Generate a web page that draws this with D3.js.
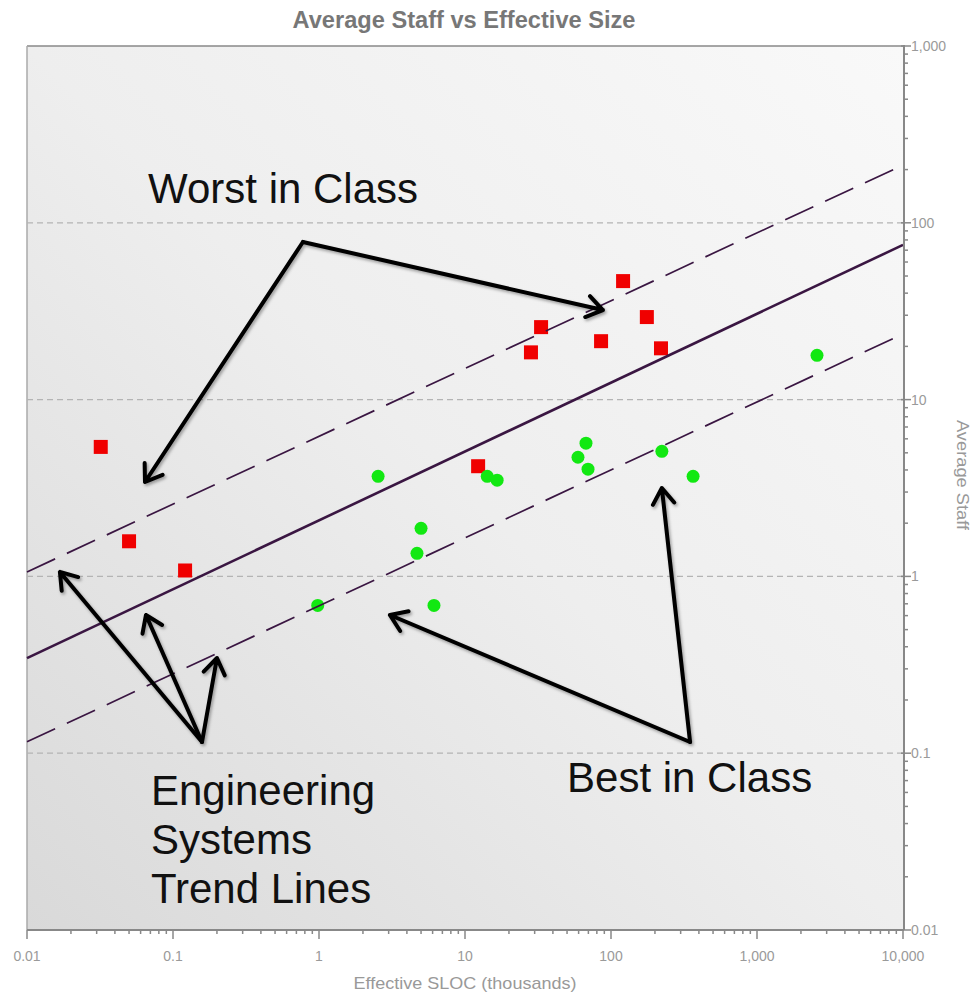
<!DOCTYPE html>
<meta charset="utf-8">
<head>
    <style>
     body { margin: 0; background: #fff; }
     svg text { font-family: "Liberation Sans", Arial, sans-serif; }
    </style>
</head>
<body>
</body>
<script src="https://d3js.org/d3.v7.min.js"></script>
<script>
 // worst in class projects (red squares)
 const worstSloc  = [0.032, 0.05, 0.121, 12.3, 28.3, 33.2, 85.5, 121, 176, 220];
 const worstStaff = [5.4, 1.58, 1.08, 4.2, 18.5, 25.7, 21.4, 46.8, 29.3, 19.5];

 // best in class projects (green dots)
 const bestSloc  = [0.98, 2.54, 4.69, 5.0, 6.13, 14.2, 16.6, 59.4, 67.4, 69.6, 223, 365, 2576];
 const bestStaff = [0.685, 3.68, 1.35, 1.87, 0.685, 3.68, 3.5, 4.72, 5.67, 4.04, 5.1, 3.68, 17.8];

 // engineering systems trend lines (end points)
 const trendSloc = [0.01, 10000];
 const trendMid  = [0.345, 75];
 const trendHigh = [1.06, 212];
 const trendLow  = [0.116, 23.5];

 const xTicks = [0.01, 0.1, 1, 10, 100, 1000, 10000];
 const xTickLabels = ["0.01", "0.1", "1", "10", "100", "1,000", "10,000"];
 const yTicks = [0.01, 0.1, 1, 10, 100, 1000];
 const yTickLabels = ["0.01", "0.1", "1", "10", "100", "1,000"];
 const yGrid = [0.1, 1, 10, 100];

 // annotations, in data units: [vertex, tips...]
 const worstArrow = [[0.776, 77.9], [88, 32.1], [0.0643, 3.42]];
 const bestArrow  = [[348, 0.1157], [223, 3.16], [3.06, 0.605]];
 const trendArrow = [[0.158, 0.1157], [0.0168, 1.06], [0.0653, 0.605], [0.2, 0.3455]];
 const notes = [
     {lines: ["Worst in Class"], at: [0.0675, 129]},
     {lines: ["Best in Class"], at: [50, 0.0603]},
     {lines: ["Engineering", "Systems", "Trend Lines"], at: [0.0706, 0.0509]}
 ];

 const width = 973, height = 995;
 const pLeft = 27, pRight = 903, pTop = 46, pBottom = 930;

 const x = d3.scaleLog().domain([0.01, 10000]).range([pLeft, pRight]);
 const y = d3.scaleLog().domain([0.01, 1000]).range([pBottom, pTop]);

 const svg = d3.select("body").append("svg")
               .attr("width", width)
               .attr("height", height);

 const defs = svg.append("defs");
 const grad = defs.append("linearGradient")
                  .attr("id", "bg")
                  .attr("x1", 0).attr("y1", 1)
                  .attr("x2", 1).attr("y2", 0);
 grad.append("stop").attr("offset", "0%").attr("stop-color", "#d9d9d9");
 grad.append("stop").attr("offset", "50%").attr("stop-color", "#eeeeee");
 grad.append("stop").attr("offset", "100%").attr("stop-color", "#f9f9f9");

 const shadow = defs.append("filter").attr("id", "shadow")
                    .attr("x", "-20%").attr("y", "-20%")
                    .attr("width", "140%").attr("height", "140%");
 shadow.append("feDropShadow")
       .attr("dx", 1.5).attr("dy", 2)
       .attr("stdDeviation", 1.5)
       .attr("flood-color", "#000")
       .attr("flood-opacity", 0.35);

 // plot background
 svg.append("rect")
    .attr("x", pLeft).attr("y", pTop)
    .attr("width", pRight - pLeft).attr("height", pBottom - pTop)
    .attr("fill", "url(#bg)");

 // frame
 svg.append("line")
    .attr("x1", pLeft).attr("x2", pRight)
    .attr("y1", pTop).attr("y2", pTop)
    .attr("stroke", "#888").attr("stroke-width", 1.5);
 svg.append("line")
    .attr("x1", pLeft).attr("x2", pLeft)
    .attr("y1", pTop).attr("y2", pBottom)
    .attr("stroke", "#aaa").attr("stroke-width", 1.5);

 // grid
 svg.append("g")
    .selectAll("line")
    .data(yGrid)
    .join("line")
    .attr("x1", pLeft).attr("x2", pRight)
    .attr("y1", d => y(d)).attr("y2", d => y(d))
    .attr("stroke", "#b4b4b4")
    .attr("stroke-width", 1.2)
    .attr("stroke-dasharray", "6,4");

 // points
 svg.append("g")
    .selectAll("rect")
    .data(worstSloc.map((s, i) => [s, worstStaff[i]]))
    .join("rect")
    .attr("x", d => x(d[0]) - 7)
    .attr("y", d => y(d[1]) - 7)
    .attr("width", 14).attr("height", 14)
    .attr("fill", "#f00000");

 svg.append("g")
    .selectAll("circle")
    .data(bestSloc.map((s, i) => [s, bestStaff[i]]))
    .join("circle")
    .attr("cx", d => x(d[0]))
    .attr("cy", d => y(d[1]))
    .attr("r", 6.5)
    .attr("fill", "#12e812");

 // trend lines
 const line = d3.line().x(d => x(d[0])).y(d => y(d[1]));
 const trends = [
     {v: trendHigh, dash: "31,13", w: 1.7},
     {v: trendMid, dash: null, w: 2.6},
     {v: trendLow, dash: "31,13", w: 1.7}
 ];
 svg.append("g")
    .selectAll("path")
    .data(trends)
    .join("path")
    .attr("d", t => line(trendSloc.map((s, i) => [s, t.v[i]])))
    .attr("fill", "none")
    .attr("stroke", "#3a1642")
    .attr("stroke-width", t => t.w)
    .attr("stroke-dasharray", t => t.dash);

 // axes
 const xAxis = svg.append("g");
 xAxis.append("line")
      .attr("x1", pLeft).attr("x2", pRight + 1)
      .attr("y1", pBottom).attr("y2", pBottom)
      .attr("stroke", "#888").attr("stroke-width", 2);
 xAxis.selectAll("line.tick")
      .data(x.ticks())
      .join("line")
      .attr("class", "tick")
      .attr("x1", d => x(d)).attr("x2", d => x(d))
      .attr("y1", pBottom)
      .attr("y2", d => pBottom + (xTicks.includes(d) ? 9 : 4))
      .attr("stroke", "#888").attr("stroke-width", 1.5);
 xAxis.selectAll("text")
      .data(xTicks)
      .join("text")
      .attr("x", d => x(d))
      .attr("y", 961)
      .attr("text-anchor", "middle")
      .attr("font-size", 14)
      .attr("fill", "#9a9a9a")
      .text((d, i) => xTickLabels[i]);

 const yAxis = svg.append("g");
 yAxis.append("line")
      .attr("x1", pRight + 1).attr("x2", pRight + 1)
      .attr("y1", pTop - 1).attr("y2", pBottom)
      .attr("stroke", "#888").attr("stroke-width", 2);
 yAxis.selectAll("line.tick")
      .data(y.ticks())
      .join("line")
      .attr("class", "tick")
      .attr("x1", d => pRight + (yTicks.includes(d) ? -2 : 1))
      .attr("x2", d => pRight + (yTicks.includes(d) ? 8 : 5))
      .attr("y1", d => y(d)).attr("y2", d => y(d))
      .attr("stroke", "#888").attr("stroke-width", 1.5);
 yAxis.selectAll("text")
      .data(yTicks)
      .join("text")
      .attr("x", 911)
      .attr("y", d => y(d) + 5)
      .attr("font-size", 14)
      .attr("fill", "#9a9a9a")
      .text((d, i) => yTickLabels[i]);

 // titles
 svg.append("text")
    .attr("x", 464).attr("y", 28)
    .attr("text-anchor", "middle")
    .attr("font-size", 23)
    .attr("font-weight", "bold")
    .attr("fill", "#777")
    .attr("textLength", 343)
    .attr("lengthAdjust", "spacingAndGlyphs")
    .text("Average Staff vs Effective Size");

 svg.append("text")
    .attr("x", 465).attr("y", 989)
    .attr("text-anchor", "middle")
    .attr("font-size", 17)
    .attr("fill", "#999")
    .attr("textLength", 223)
    .attr("lengthAdjust", "spacingAndGlyphs")
    .text("Effective SLOC (thousands)");

 svg.append("text")
    .attr("transform", "translate(957,475) rotate(90)")
    .attr("text-anchor", "middle")
    .attr("font-size", 17)
    .attr("fill", "#999")
    .attr("textLength", 110)
    .attr("lengthAdjust", "spacingAndGlyphs")
    .text("Average Staff");

 // annotation arrows
 function arrow(g, pts) {
     const v = [x(pts[0][0]), y(pts[0][1])];
     pts.slice(1).forEach(p => {
         const t = [x(p[0]), y(p[1])];
         const a = Math.atan2(t[1] - v[1], t[0] - v[0]);
         const len = 19, spread = 0.6;
         const h1 = [t[0] - len * Math.cos(a - spread), t[1] - len * Math.sin(a - spread)];
         const h2 = [t[0] - len * Math.cos(a + spread), t[1] - len * Math.sin(a + spread)];
         g.append("path")
          .attr("d", `M${v}L${t}M${h1}L${t}L${h2}`)
          .attr("fill", "none")
          .attr("stroke", "#000")
          .attr("stroke-width", 4)
          .attr("stroke-linecap", "round")
          .attr("stroke-linejoin", "round");
     });
 }
 const ann = svg.append("g").attr("filter", "url(#shadow)");
 [worstArrow, bestArrow, trendArrow].forEach(a => arrow(ann, a));

 notes.forEach(n => {
     const t = svg.append("text")
                  .attr("x", x(n.at[0]))
                  .attr("y", y(n.at[1]))
                  .attr("font-size", 42)
                  .attr("fill", "#111");
     n.lines.forEach((l, i) => {
         t.append("tspan")
          .attr("x", x(n.at[0]))
          .attr("dy", i ? 49 : 0)
          .text(l);
     });
 });
</script>
